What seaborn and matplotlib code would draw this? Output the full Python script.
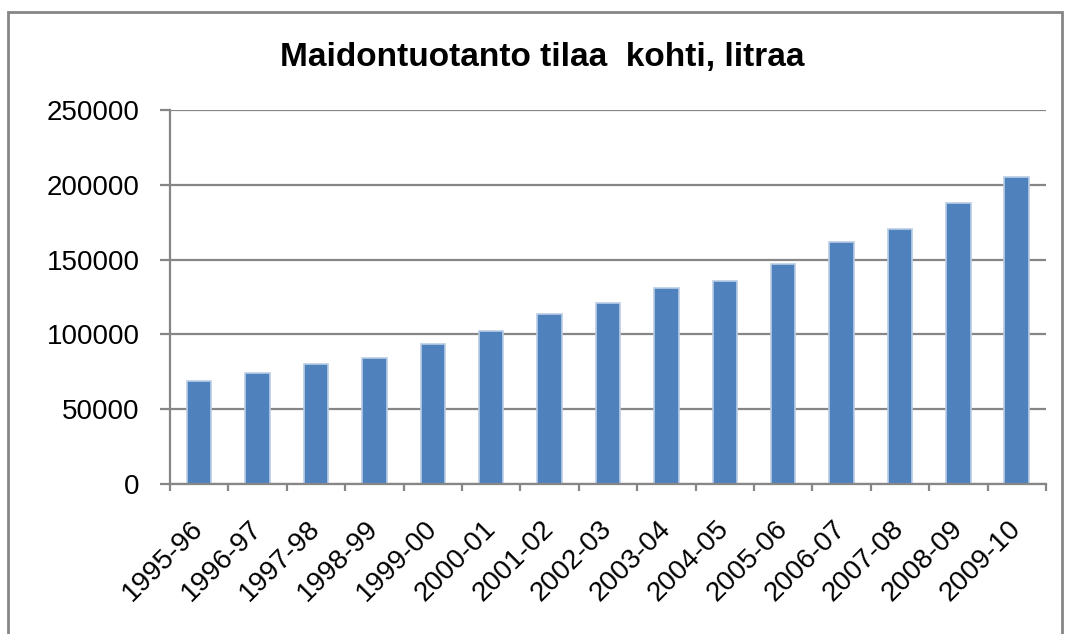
import numpy as np
import pandas as pd
import matplotlib
matplotlib.use("Agg")
import matplotlib.pyplot as plt
import matplotlib.transforms as mtransforms
from matplotlib.patches import Rectangle
import seaborn as sns

# Data
seasons = ["1995-96", "1996-97", "1997-98", "1998-99", "1999-00",
           "2000-01", "2001-02", "2002-03", "2003-04", "2004-05",
           "2005-06", "2006-07", "2007-08", "2008-09", "2009-10"]
litres_per_farm = [68700, 74500, 80400, 84400, 93300,
                   102000, 113800, 121100, 131100, 135600,
                   147100, 161800, 170400, 187800, 205300]
y_ticks = [0, 50000, 100000, 150000, 200000, 250000]
title = "Maidontuotanto tilaa  kohti, litraa"

GRID = "#868686"
BAR = "#4f81bd"
EDGE = "#b9cde5"

sns.set_theme(style="white")
plt.rcParams['font.family'] = ['Liberation Sans', 'DejaVu Sans']

df = pd.DataFrame({"season": seasons, "litres": litres_per_farm})

fig = plt.figure(figsize=(10.66, 6.34), dpi=100)
ax = fig.add_axes([0.1595, 0.2366, 0.8217, 0.5899])

sns.barplot(data=df, x="season", y="litres", order=seasons, color=BAR,
            width=0.42, edgecolor=EDGE, linewidth=1.2, saturation=1, ax=ax)

ax.set_xlim(-0.5, len(seasons) - 0.5)
ax.set_ylim(0, 250000)
ax.set_yticks(y_ticks)
ax.set_yticklabels([str(v) for v in y_ticks], fontsize=20, color="black")
ax.yaxis.grid(True, color=GRID, linewidth=1.6)
ax.set_axisbelow(True)

# category labels at bar centres, tick marks between categories
ax.set_xticks(range(len(seasons)))
ax.set_xticklabels(seasons, rotation=45, ha="right", rotation_mode="anchor",
                   fontsize=20, color="black")
ax.set_xticks(np.arange(-0.5, len(seasons), 1.0), minor=True)
ax.tick_params(axis="x", which="major", length=0, pad=23)
ax.tick_params(axis="x", which="minor", length=5, width=1.6, color=GRID,
               direction="out", bottom=True)
ax.tick_params(axis="y", length=7, width=1.6, color=GRID, direction="out",
               left=True, pad=15)

# nudge the rotated labels a little to the left
shift = mtransforms.ScaledTranslation(-0.09, 0, fig.dpi_scale_trans)
for lbl in ax.get_xticklabels():
    lbl.set_transform(lbl.get_transform() + shift)

ax.set_xlabel("")
ax.set_ylabel("")
for side in ["top", "right"]:
    ax.spines[side].set_visible(False)
for side in ["left", "bottom"]:
    ax.spines[side].set_color(GRID)
    ax.spines[side].set_linewidth(1.6)

fig.text(0.509, 0.896, title, ha="center", va="baseline",
         fontsize=24, fontweight="bold", color="black")

# chart-area border
fig.patches.append(Rectangle((0.0075, -0.05), 0.989, 1.031, transform=fig.transFigure,
                             fill=False, edgecolor=GRID, linewidth=2))

fig.savefig("out.png", dpi=100)
